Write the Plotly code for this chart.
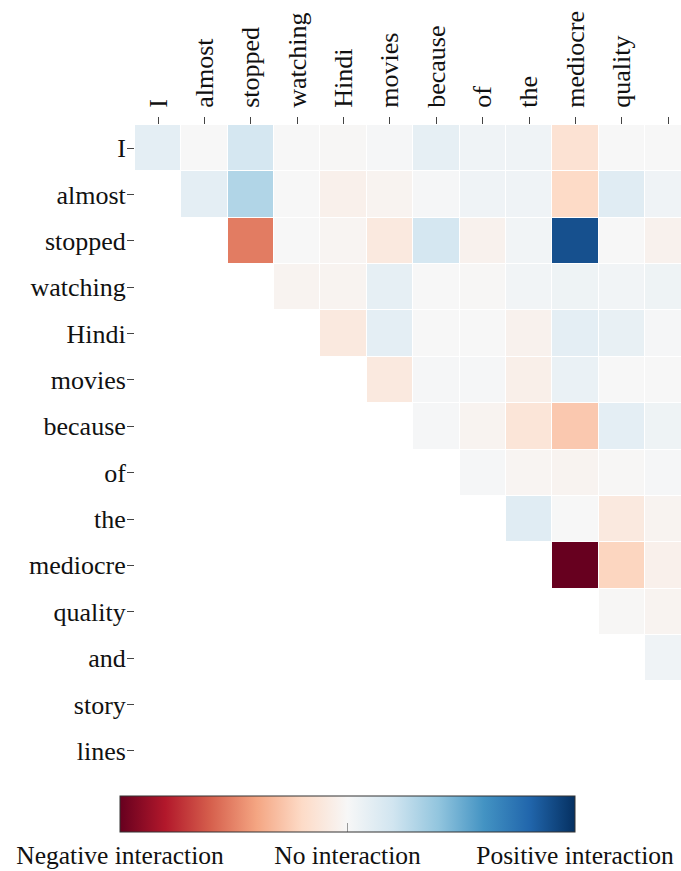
import plotly.graph_objects as go

tokens = ["I", "almost", "stopped", "watching", "Hindi", "movies", "because",
          "of", "the", "mediocre", "quality", "and", "story", "lines"]
col_tokens = tokens[:12]

N = None
z_rows = [
    [0.10, 0.00, 0.18, 0.00, -0.01, 0.01, 0.09, 0.04, 0.04, -0.15, 0.00, 0.00],
    [N, 0.10, 0.30, 0.00, -0.05, -0.03, 0.01, 0.04, 0.04, -0.20, 0.12, 0.04],
    [N, N, -0.52, 0.00, -0.02, -0.10, 0.18, -0.04, 0.03, 0.88, 0.00, -0.04],
    [N, N, N, -0.03, -0.03, 0.09, 0.00, -0.01, 0.03, 0.05, 0.03, 0.05],
    [N, N, N, N, -0.10, 0.10, 0.00, 0.00, -0.04, 0.10, 0.08, 0.01],
    [N, N, N, N, N, -0.10, 0.01, 0.01, -0.06, 0.07, 0.00, 0.00],
    [N, N, N, N, N, N, 0.01, -0.03, -0.13, -0.27, 0.10, 0.05],
    [N, N, N, N, N, N, N, 0.01, -0.02, -0.03, -0.01, 0.01],
    [N, N, N, N, N, N, N, N, 0.12, 0.00, -0.10, -0.03],
    [N, N, N, N, N, N, N, N, N, -1.00, -0.22, -0.05],
    [N, N, N, N, N, N, N, N, N, N, -0.01, -0.03],
    [N, N, N, N, N, N, N, N, N, N, N, 0.04],
    [N] * 12,
    [N] * 12,
]

cb_ticks = [-1, 0, 1]
cb_labels = ["Negative interaction", "No interaction", "Positive interaction"]

rdbu = ["#67001f", "#b2182b", "#d6604d", "#f4a582", "#fddbc7", "#f7f7f7",
        "#d1e5f0", "#92c5de", "#4393c3", "#2166ac", "#053061"]
colorscale = [[i / (len(rdbu) - 1), c] for i, c in enumerate(rdbu)]

FONT = "Liberation Serif"
FS = 26
W, H = 681, 871
L, R, T = 135, 0, 125
plot_h = 774 - 125
B = H - T - plot_h
cell = plot_h / len(tokens)
plot_w = W - L - R

fig = go.Figure(go.Heatmap(
    z=z_rows,
    x=list(range(len(col_tokens))),
    y=list(range(len(tokens))),
    zmin=-1, zmax=1,
    colorscale=colorscale,
    xgap=1, ygap=1,
    hoverongaps=False,
    colorbar=dict(
        orientation="h",
        lenmode="pixels", len=455,
        thickness=36,
        x=(347.5 - L) / plot_w, xanchor="center",
        y=-(796 - 774) / plot_h, yanchor="top",
        xpad=0, ypad=0,
        outlinecolor="#333", outlinewidth=1,
        tickvals=cb_ticks, ticktext=cb_labels,
        ticks="inside", ticklen=9, tickcolor="#999", tickwidth=1,
        ticklabelposition="outside bottom",
        tickfont=dict(family=FONT, size=25.5, color="#111"),
    ),
))

fig.update_layout(
    width=W, height=H,
    margin=dict(l=L, r=R, t=T, b=B, autoexpand=False),
    paper_bgcolor="white", plot_bgcolor="white",
    font=dict(family=FONT, size=FS, color="#111"),
)
fig.update_xaxes(
    side="top",
    range=[-0.5, -0.5 + plot_w / cell],
    tickvals=list(range(len(col_tokens))), ticktext=col_tokens,
    tickangle=-90,
    ticks="outside", ticklen=7, tickcolor="#444", tickwidth=1,
    ticklabelstandoff=4,
    showgrid=False, zeroline=False, showline=False, automargin=False,
    tickfont=dict(family=FONT, size=FS, color="#111"),
)
fig.update_yaxes(
    range=[len(tokens) - 0.5, -0.5],
    tickvals=list(range(len(tokens))), ticktext=tokens,
    ticks="outside", ticklen=7, tickcolor="#444", tickwidth=1,
    ticklabelstandoff=-4,
    showgrid=False, zeroline=False, showline=False, automargin=False,
    tickfont=dict(family=FONT, size=FS, color="#111"),
)

page_css = (
    "document.documentElement.style.margin='0';"
    "document.documentElement.style.overflow='hidden';"
    "document.body.style.margin='0';"
    "document.body.style.padding='0';"
    "document.body.style.overflow='hidden';"
)
fig.write_html("out.html", default_width=f"{W}px", default_height=f"{H}px",
               post_script=page_css, config={"displayModeBar": False})
